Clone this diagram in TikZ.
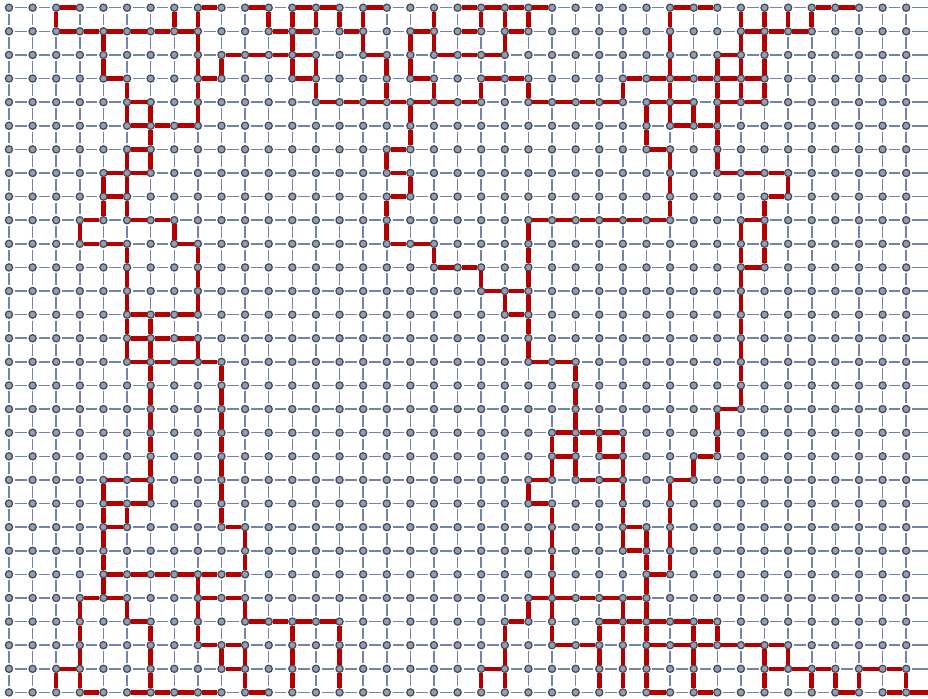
\documentclass[tikz,border=0pt]{standalone}
\usetikzlibrary{arrows.meta, positioning}
\definecolor{gridedge}{RGB}{112,132,172}
\definecolor{pathedge}{RGB}{180,0,0}
\definecolor{vfill}{RGB}{146,158,180}
\definecolor{vdraw}{RGB}{70,74,84}

\begin{document}
\begin{tikzpicture}[x=0.6cm, y=0.6cm,
        vertex/.style={circle, draw=vdraw, fill=vfill, line width=0.9pt,
                       inner sep=0pt, minimum size=5.2pt, outer sep=0.3pt},
        gedge/.style={gridedge, line width=1.1pt, shorten <=1.4pt, shorten >=1.4pt},
        redge/.style={pathedge, line width=3.3pt},
    ]
    \useasboundingbox (-0.381,0.326) rectangle (38.924,-29.238);
    \fill[white] (-0.381,0.326) rectangle (38.924,-29.238);
    \clip (-0.381,0.326) rectangle (38.924,-29.238);

    % vertices of the grid
    \foreach \i in {0,...,38}
        \foreach \j in {0,...,29}
            \node[vertex] (n-\i-\j) at (\i,-\j) {};
    % grid continues past the right edge
    \foreach \j in {0,...,29}
        \coordinate (s-\j) at (39,-\j);

    % grid edges
    \foreach \i in {0,...,37} {
        \pgfmathtruncatemacro\k{\i+1}
        \foreach \j in {0,...,29}
            \draw[gedge] (n-\i-\j) -- (n-\k-\j);
    }
    \foreach \j in {0,...,28} {
        \pgfmathtruncatemacro\k{\j+1}
        \foreach \i in {0,...,38}
            \draw[gedge] (n-\i-\j) -- (n-\i-\k);
    }
    \foreach \j in {0,...,29}
        \draw[gedge, shorten >=0pt] (n-38-\j) -- (s-\j);

    % highlighted edges, horizontal (row / start columns)
    \foreach \j/\cols in {
        0/{2,8,10,12,13,15,19,20,21,22,28,29,34,35},
        1/{2,3,4,5,6,7,11,12,14,17,19,21,31,32,33},
        2/{9,10,11,12,15,18,19,20,30},
        3/{4,8,12,17,20,21,26,27,28,29,30,31},
        4/{5,13,14,15,16,17,18,19,22,23,24,25,27,28,30,31},
        5/{5,6,7,28,29},
        6/{5,16,27},
        7/{4,5,16,30,31,32},
        8/{4,16,32},
        9/{3,5,6,22,23,24,25,26,27,31},
        10/{3,4,7,16,17},
        11/{18,19,31},
        12/{20,21},
        13/{5,6,7,21},
        14/{5,6,7},
        15/{5,6,7,8,22,23},
        17/{30},
        18/{23,24,25},
        19/{23,25,29},
        20/{4,5,22,24,25,28},
        21/{4,5,22},
        22/{4,9,26},
        23/{26},
        24/{4,5,6,7,8,9,27},
        25/{3,4,8,9,22,23,24,25,26},
        26/{5,10,11,12,13,21,25,26,27,28,29},
        27/{8,9,23,24,27,28,29,30,31,32},
        28/{2,9,20,32,33,34,36,37},
        29/{3,5,6,7,8,10,27,29,35,37}} {
        \foreach \i in \cols {
            \pgfmathtruncatemacro\k{\i+1}
            \draw[redge] (n-\i-\j) -- (n-\k-\j);
        }
    }
    \draw[redge] (n-38-29) -- (s-29);

    % highlighted edges, vertical (upper row / columns)
    \foreach \j/\cols in {
        0/{2,7,8,11,12,13,14,15,18,20,21,22,28,31,32,33,34},
        1/{4,8,12,15,17,18,21,28,31,32},
        2/{4,8,9,12,13,16,17,28,30,31,32},
        3/{5,8,13,16,18,20,22,26,28,30,31,32},
        4/{5,6,8,17,27,28,29,30},
        5/{6,17,27,30},
        6/{5,6,16,28,30},
        7/{4,5,17,28,33},
        8/{4,5,16,28,32},
        9/{3,7,16,22,31,32},
        10/{5,8,18,22,31,32},
        11/{5,8,20,22,31},
        12/{5,8,21,22,31},
        13/{5,6,22,31},
        14/{5,6,8,22,31},
        15/{6,9,24,31},
        16/{6,9,24,31},
        17/{6,9,24,30},
        18/{6,9,23,24,25,26,30},
        19/{6,9,23,24,26,29},
        20/{4,6,9,22,26,28},
        21/{4,5,9,23,26,28},
        22/{4,10,23,26,27,28},
        23/{4,10,23,27,28},
        24/{4,8,23,27},
        25/{3,5,8,10,22,23,26,27},
        26/{3,6,8,12,14,21,23,25,26,27,29,30},
        27/{3,6,9,10,12,14,21,25,26,27,29,32,33},
        28/{2,3,6,10,12,14,20,21,25,26,27,29,32,34,35,36,38}} {
        \pgfmathtruncatemacro\k{\j+1}
        \foreach \i in \cols
            \draw[redge] (n-\i-\j) -- (n-\i-\k);
    }
\end{tikzpicture}
\end{document}
